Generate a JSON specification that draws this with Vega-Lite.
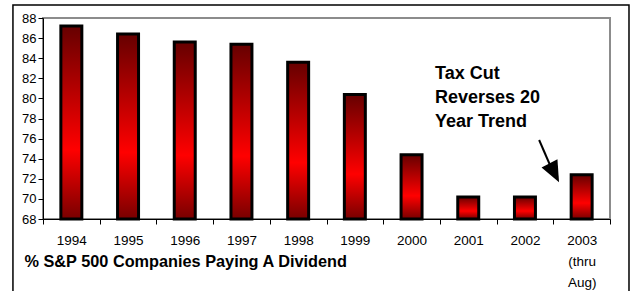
{
  "$schema": "https://vega.github.io/schema/vega-lite/v6.json",
  "width": 567,
  "height": 201,
  "autosize": "none",
  "padding": {"left": 43, "top": 18, "right": 21, "bottom": 72},
  "background": "white",
  "config": {
    "view": {"stroke": "#8c8c8c", "strokeWidth": 2},
    "font": "Liberation Sans",
    "axisY": {
      "labelOverlap": false,
      "tickCount": 11,
      "grid": false,
      "tickSize": 5,
      "tickColor": "black",
      "domainColor": "black",
      "labelFontSize": 13,
      "labelColor": "black",
      "labelPadding": 2,
      "title": null
    }
  },
  "data": {
    "values": [
      {"year": "1994", "pct": 87.2},
      {"year": "1995", "pct": 86.4},
      {"year": "1996", "pct": 85.6},
      {"year": "1997", "pct": 85.4},
      {"year": "1998", "pct": 83.6},
      {"year": "1999", "pct": 80.4},
      {"year": "2000", "pct": 74.4},
      {"year": "2001", "pct": 70.2},
      {"year": "2002", "pct": 70.2},
      {"year": "2003", "pct": 72.4}
    ]
  },
  "layer": [
    {
      "mark": {
        "type": "bar",
        "fill": {
          "gradient": "linear", "x1": 0, "y1": 0, "x2": 0, "y2": 1,
          "stops": [
            {"offset": 0, "color": "#660000"},
            {"offset": 0.64, "color": "#ff0000"},
            {"offset": 1, "color": "#780000"}
          ]
        },
        "stroke": "black",
        "strokeWidth": 3,
        "width": {"band": 0.37}
      },
      "encoding": {
        "x": {
          "field": "year", "type": "ordinal",
          "scale": {"paddingInner": 0, "paddingOuter": 0},
          "axis": {
            "title": "% S&P 500 Companies Paying A Dividend",
            "labelAngle": 0,
            "tickBand": "extent",
            "tickSize": 5,
            "tickColor": "black",
            "domainColor": "black",
            "labelPadding": 9,
            "labelFontSize": 13.5,
            "labelColor": "black",
            "labelLineHeight": 21,
            "labelExpr": "datum.value == '2003' ? ['2003', '(thru', 'Aug)'] : datum.label",
            "titleFontSize": 16.3,
            "titleFontWeight": "bold",
            "titleColor": "black",
            "titleAnchor": "start",
            "titleAlign": "left",
            "titleBaseline": "alphabetic",
            "titleX": -19,
            "titleY": 47.5
          }
        },
        "y": {
          "field": "pct", "type": "quantitative",
          "scale": {"domain": [68, 88], "nice": false, "zero": false},
          "axis": {"values": [68, 70, 72, 74, 76, 78, 80, 82, 84, 86, 88]}
        },
        "y2": {"datum": 68}
      }
    },
    {
      "data": {"values": [{}]},
      "layer": [
        {
          "mark": {"type": "rect", "fill": null, "fillOpacity": 0, "stroke": "black", "strokeWidth": 1.5, "clip": false},
          "encoding": {
            "x": {"datum": -0.53, "type": "quantitative", "scale": {"domain": [0, 10], "nice": false, "zero": false}, "axis": null},
            "x2": {"datum": 10.335},
            "y": {"datum": 89.3, "type": "quantitative"},
            "y2": {"datum": 59.0}
          }
        },
        {
          "mark": {"type": "rule", "stroke": "black", "strokeWidth": 2},
          "encoding": {
            "x": {"datum": 8.75, "type": "quantitative", "scale": {"domain": [0, 10], "nice": false, "zero": false}, "axis": null},
            "x2": {"datum": 8.94},
            "y": {"datum": 75.86, "type": "quantitative"},
            "y2": {"datum": 73.4}
          }
        },
        {
          "mark": {"type": "point", "shape": "M-0.85,-1L0.85,-1L0,1Z", "filled": true, "color": "black", "opacity": 1, "size": 441, "angle": 333},
          "encoding": {
            "x": {"datum": 9.017, "type": "quantitative", "scale": {"domain": [0, 10], "nice": false, "zero": false}, "axis": null},
            "y": {"datum": 72.6, "type": "quantitative"}
          }
        },
        {
          "mark": {
            "type": "text",
            "text": ["Tax Cut", "Reverses 20", "Year Trend"],
            "align": "left",
            "baseline": "alphabetic",
            "fontSize": 18,
            "fontWeight": "bold",
            "lineHeight": 24,
            "color": "black"
          },
          "encoding": {
            "x": {"datum": 6.914, "type": "quantitative", "scale": {"domain": [0, 10], "nice": false, "zero": false}, "axis": null},
            "y": {"datum": 81.93, "type": "quantitative"}
          }
        }
      ]
    }
  ],
  "resolve": {"scale": {"x": "independent"}, "axis": {"x": "independent"}}
}
